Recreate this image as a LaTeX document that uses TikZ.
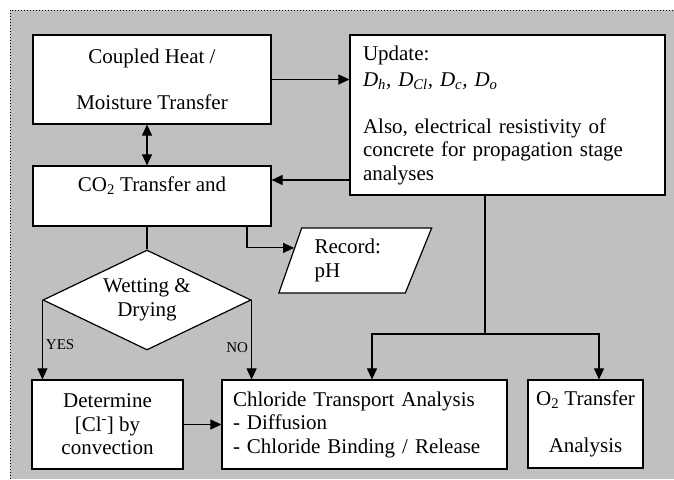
\documentclass[tikz,border=0pt]{standalone}
\usepackage{fontspec}
\setmainfont{Liberation Serif}
\usepackage{tikz}
\usetikzlibrary{positioning}
\usetikzlibrary{arrows,arrows.meta}
\usetikzlibrary{shapes.geometric}
\usetikzlibrary{calc}
\definecolor{panel}{RGB}{192,192,192}
\tikzset{every edge/.style={ % connectors between the boxes
			draw,
			->,
			line width=1.1pt},
		box/.style={draw, fill=white, line width=1.2pt, inner sep=0pt},
		tag/.style={font=\fontsize{15}{18}\selectfont, inner sep=3pt}}

\begin{document}
\begin{tikzpicture}[x=1pt, y=-1pt, font=\fontsize{21}{23.5}\selectfont, line width=1.1pt, >={Triangle[length=11pt,width=10pt]}]
			\useasboundingbox (0,0) rectangle (674,479);
			\fill[panel] (10,10) rectangle (674,479);
			\draw[dotted, line width=1pt] (10,479) -- (10,10) -- (674,10);

			\node [box, minimum width=238pt, minimum height=89pt, align=center] (H) at (152,79.5) {Coupled Heat /\\[22pt] Moisture Transfer};
			\node [box, minimum width=238pt, minimum height=60pt, align=center] (C) at (152,196) {CO\textsubscript{2} Transfer and\\ \mbox{}};
			\node [box, minimum width=315pt, minimum height=160pt, align=left, text width=289pt] (U) at (507.5,115) {Update:\\[3pt] \textit{D\textsubscript{h}, D\textsubscript{Cl}, D\textsubscript{c}, D\textsubscript{o}}\\[23pt] Also, electrical resistivity of\\ concrete for propagation stage\\ analyses};
			\node [box, trapezium, trapezium left angle=68, trapezium right angle=115, trapezium stretches=true, minimum width=153pt, minimum height=65pt, align=left, text width=78pt] (R) at (353.5,260.5) {Record:\\ pH};
			\node [box, diamond, shape aspect=2.08, minimum width=208pt, minimum height=100pt, align=center] (W) at (147,300) {Wetting \&\\ Drying};
			\node [box, minimum width=151pt, minimum height=89pt, align=center] (D) at (107.5,424.5) {Determine\\ {[}Cl\textsuperscript{-}{]} by\\ convection};
			\node [box, minimum width=285pt, minimum height=89pt, align=left, text width=263pt] (T) at (364.5,424.5) {Chloride Transport Analysis\\ - Diffusion\\ - Chloride Binding / Release};
			\node [box, minimum width=115pt, minimum height=88pt, align=center] (O) at (585.5,424) {O\textsubscript{2} Transfer\\[23pt] Analysis};
			\coordinate (S) at (485,334);

			\draw (H.east) edge (H.east -| U.west) (U.west |- 0,180) edge (C.east |- 0,180) (D.east) edge (T.west);
			\draw[<->] ([xshift=-5pt]H.south) -- ([xshift=-5pt]C.north);
			\draw ([xshift=-5pt]C.south) -- (W.north);
			\draw[->] ([xshift=95pt]C.south) |- ($(R.bottom left corner)!0.69!(R.top left corner)$);
			\draw[->] (W.west) -- (W.west |- D.north) node [tag, pos=0.56, right] {YES};
			\draw[->] (W.east) -- (W.east |- T.north) node [tag, pos=0.6, left] {NO};
			\draw (U.south -| S) -- (S);
			\draw[->] (S) -| ([xshift=7.5pt]T.north);
			\draw[->] (S) -| ([xshift=13.5pt]O.north);
		\end{tikzpicture}
\end{document}
